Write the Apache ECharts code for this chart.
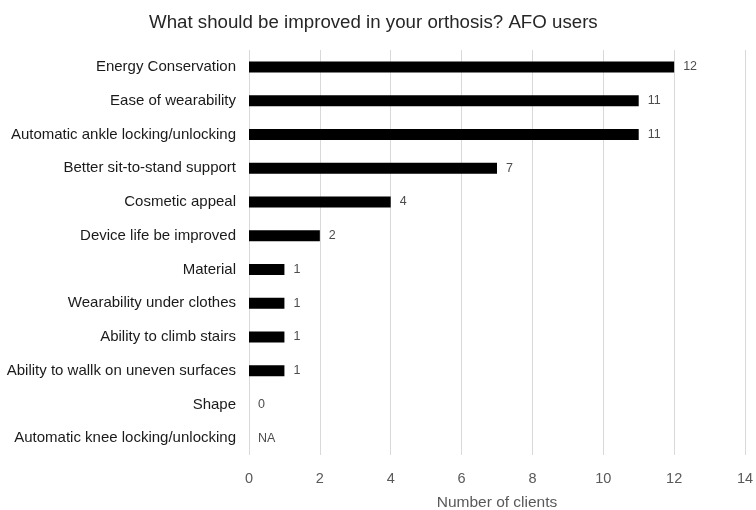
<!DOCTYPE html>
<html>
<head>
<meta charset="utf-8">
<script src="https://cdn.jsdelivr.net/npm/echarts@6/dist/echarts.min.js"></script>
<style>
  html, body { margin: 0; padding: 0; background: #fff; }
  #chart { width: 756px; height: 510px; }
</style>
</head>
<body>
<div id="chart"></div>
<script>
// Improvement requests from AFO users, top to bottom
const categories = [
  'Energy Conservation',
  'Ease of wearability',
  'Automatic ankle locking/unlocking',
  'Better sit-to-stand support',
  'Cosmetic appeal',
  'Device life be improved',
  'Material',
  'Wearability under clothes',
  'Ability to climb stairs',
  'Ability to wallk on uneven surfaces',
  'Shape',
  'Automatic knee locking/unlocking'
];
// null = not applicable (shown as "NA")
const clients = [12, 11, 11, 7, 4, 2, 1, 1, 1, 1, 0, null];
const xTicks = [0, 2, 4, 6, 8, 10, 12, 14];

const chart = echarts.init(document.getElementById('chart'), null, { renderer: 'canvas' });

const font = 'Liberation Sans, Arial, sans-serif';

chart.setOption({
  animation: false,
  backgroundColor: '#ffffff',
  title: {
    text: 'What should be improved in your orthosis? AFO users',
    left: 144,
    top: 8,
    textStyle: { fontFamily: font, fontSize: 18.7, fontWeight: 'normal', color: '#262626' }
  },
  grid: { left: 249, right: 11, top: 50, bottom: 55, containLabel: false, outerBoundsMode: 'none' },
  xAxis: {
    type: 'value',
    min: xTicks[0],
    max: xTicks[xTicks.length - 1],
    interval: 2,
    name: 'Number of clients',
    nameLocation: 'middle',
    nameGap: 40,
    nameTextStyle: { fontFamily: font, fontSize: 15.5, color: '#595959' },
    axisLine: { show: false },
    axisTick: { show: false },
    axisLabel: { fontFamily: font, fontSize: 14.5, color: '#595959', margin: 16 },
    splitLine: { show: true, lineStyle: { color: '#d9d9d9', width: 1 } }
  },
  yAxis: {
    type: 'category',
    inverse: true,
    data: categories,
    axisLine: { show: false },
    axisTick: { show: false },
    axisLabel: { fontFamily: font, fontSize: 15, color: '#1a1a1a', margin: 13 }
  },
  series: [{
    type: 'bar',
    data: clients.map(v => v === null ? { value: 0, na: true } : v),
    barWidth: 11,
    itemStyle: { color: '#000000' },
    label: {
      show: true,
      position: 'right',
      distance: 9,
      fontFamily: font,
      fontSize: 12.5,
      color: '#4d4d4d',
      formatter: p => (p.data && p.data.na) ? 'NA' : String(p.value)
    }
  }]
});
</script>
</body>
</html>
